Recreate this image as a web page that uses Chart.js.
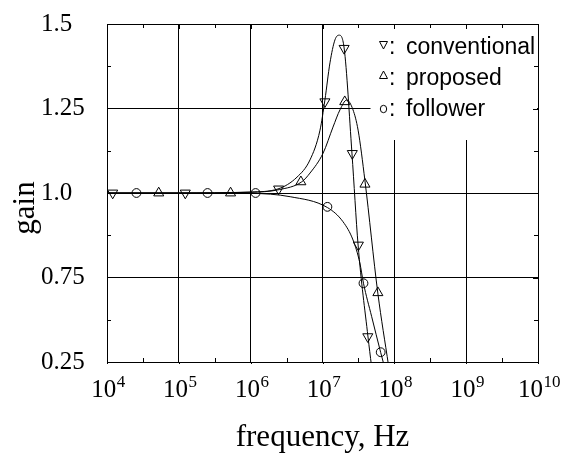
<!DOCTYPE html>
<html>
<head>
<meta charset="utf-8">
<script src="https://cdn.jsdelivr.net/npm/chart.js@4.4.1/dist/chart.umd.min.js"></script>
<style>
html,body{margin:0;padding:0;background:#fff;}
#wrap{width:567px;height:456px;}
</style>
</head>
<body>
<div id="wrap"><canvas id="c" width="567" height="456"></canvas></div>
<script>
// ---- axis ticks ----
const xTickValues = [1e4, 1e5, 1e6, 1e7, 1e8, 1e9, 1e10];
const xTickBase = '10';
const xTickExps = ['4', '5', '6', '7', '8', '9', '10'];
const xMinorValues = [3.16e4, 3.16e5, 3.16e6, 3.16e7, 3.16e8, 3.16e9];
const yTickValues = [0.5, 0.75, 1.0, 1.25, 1.5];
const yTickLabels = ['0.25', '0.75', '1.0', '1.25', '1.5'];
const yMinorValues = [0.625, 0.875, 1.125, 1.375];

// ---- series names ----
const seriesNames = ['conventional', 'proposed', 'follower'];

// ---- measured points (Hz, gain) ----
const convMarkF = [1.2e4, 1.23e5, 2.45e6, 1.08e7, 2.0e7, 2.6e7, 3.16e7, 4.27e7];
const convMarkG = [1.0, 1.0, 1.012, 1.27, 1.428, 1.117, 0.846, 0.575];
const propMarkF = [5.25e4, 5.25e5, 5.0e6, 2.04e7, 3.9e7, 5.9e7];
const propMarkG = [1.0, 1.0, 1.033, 1.27, 1.026, 0.705];
const follMarkF = [2.57e4, 2.51e5, 1.17e6, 1.17e7, 3.72e7, 6.46e7];
const follMarkG = [1.0, 1.0, 1.0, 0.959, 0.733, 0.529];

// ---- fitted curves (Hz, gain) ----
const convCurveF = [1e4, 1e5, 1e6, 2.4e6, 4.42e6, 6.7e6, 9.23e6, 1.08e7, 1.27e7, 1.49e7, 1.7e7, 2.0e7, 2.57e7, 3.13e7, 4.3e7, 4.8e7];
const convCurveG = [1.0, 1.0, 1.003, 1.012, 1.047, 1.098, 1.186, 1.275, 1.385, 1.453, 1.467, 1.429, 1.118, 0.846, 0.574, 0.49];
const propCurveF = [1e4, 1e5, 1e6, 2.5e6, 5.13e6, 6.7e6, 1.02e7, 1.4e7, 1.75e7, 2.17e7, 2.66e7, 3.13e7, 3.89e7, 5.89e7, 8.3e7];
const propCurveG = [1.0, 1.0, 1.002, 1.01, 1.033, 1.059, 1.118, 1.195, 1.246, 1.275, 1.246, 1.186, 1.038, 0.704, 0.49];
const follCurveF = [1e4, 1e5, 1e6, 3.55e6, 1.17e7, 1.93e7, 2.66e7, 3.31e7, 3.72e7, 4.84e7, 6.46e7, 7.2e7];
const follCurveG = [1.0, 1.0, 0.999, 0.989, 0.957, 0.915, 0.861, 0.793, 0.733, 0.634, 0.528, 0.49];

const pts = (f, g) => f.map((v, i) => ({x: v, y: g[i]}));

const curveDs = (f, g) => ({
  data: pts(f, g), showLine: true, pointRadius: 0, borderColor: '#000',
  borderWidth: 1, cubicInterpolationMode: 'monotone', fill: false
});
const markDs = (f, g, style, rot, r) => ({
  data: pts(f, g), showLine: false, pointStyle: style, rotation: rot,
  pointRadius: r, borderColor: '#000', borderWidth: 1,
  backgroundColor: 'rgba(0,0,0,0)', pointBorderColor: '#000', pointBackgroundColor: 'rgba(0,0,0,0)'
});

const SERIF = '"Liberation Serif", "Times New Roman", serif';
const SANS = '"Liberation Sans", Arial, sans-serif';

const LEG = {x0: 370.5, y1: 140};

const framePlugin = {
  id: 'frameExtras',
  beforeDatasetsDraw(chart) {
    const {ctx, chartArea: a} = chart;
    ctx.save();
    ctx.fillStyle = '#fff';
    ctx.fillRect(LEG.x0, a.top + 1, a.right - 1 - LEG.x0, LEG.y1 - a.top - 1);
    ctx.restore();
  },
  afterDatasetsDraw(chart) {
    const {ctx, chartArea: a, scales} = chart;
    const xs = scales.x, ys = scales.y;
    ctx.save();
    ctx.strokeStyle = '#000';
    ctx.lineWidth = 1;
    ctx.beginPath();
    xMinorValues.forEach(v => {
      const px = Math.round(xs.getPixelForValue(v)) + 0.5;
      ctx.moveTo(px, a.bottom); ctx.lineTo(px, a.bottom - 4);
      ctx.moveTo(px, a.top); ctx.lineTo(px, a.top + 4);
    });
    xTickValues.forEach(v => {
      const px = Math.round(xs.getPixelForValue(v)) + 0.5;
      ctx.moveTo(px, a.top); ctx.lineTo(px, a.top + 5);
      ctx.moveTo(px, a.bottom); ctx.lineTo(px, a.bottom + 2);
    });
    yMinorValues.forEach(v => {
      const py = Math.round(ys.getPixelForValue(v)) + 0.5;
      ctx.moveTo(a.left, py); ctx.lineTo(a.left + 4, py);
      ctx.moveTo(a.right, py); ctx.lineTo(a.right - 4, py);
    });
    yTickValues.forEach(v => {
      const py = Math.round(ys.getPixelForValue(v)) + 0.5;
      ctx.moveTo(a.right, py); ctx.lineTo(a.right - 5, py);
    });
    ctx.stroke();

    // x tick labels: 10 with superscript exponent
    ctx.fillStyle = '#000';
    ctx.textBaseline = 'alphabetic';
    ctx.textAlign = 'left';
    xTickValues.forEach((v, i) => {
      const px = xs.getPixelForValue(v);
      ctx.font = '25px ' + SERIF;
      const w1 = ctx.measureText(xTickBase).width;
      ctx.font = '17px ' + SERIF;
      const w2 = ctx.measureText(xTickExps[i]).width;
      const x0 = px - (w1 + w2) / 2 + 1;
      ctx.font = '25px ' + SERIF;
      ctx.fillText(xTickBase, x0, 397);
      ctx.font = '17px ' + SERIF;
      ctx.fillText(xTickExps[i], x0 + w1 + 0.5, 387);
    });

    // legend
    ctx.lineWidth = 1;
    ctx.beginPath();
    ctx.moveTo(379.5, 41.5); ctx.lineTo(387.5, 41.5); ctx.lineTo(383.5, 49); ctx.closePath();
    ctx.moveTo(379.5, 78.5); ctx.lineTo(387.5, 78.5); ctx.lineTo(383.5, 71); ctx.closePath();
    ctx.stroke();
    ctx.beginPath();
    ctx.ellipse(383.5, 109, 3.2, 3.7, 0, 0, Math.PI * 2);
    ctx.stroke();
    ctx.fillStyle = '#000';
    ctx.font = '23px ' + SANS;
    ctx.textBaseline = 'alphabetic';
    ctx.textAlign = 'left';
    const base = [54, 85, 116];
    seriesNames.forEach((n, i) => {
      ctx.fillText(':', 389, base[i]);
      ctx.fillText(n, 406, base[i]);
    });

    // y title
    ctx.save();
    ctx.translate(26, 208);
    ctx.rotate(-Math.PI / 2);
    ctx.font = '31px ' + SERIF;
    ctx.textAlign = 'center';
    ctx.textBaseline = 'middle';
    ctx.fillText('gain', 0, 0);
    ctx.restore();
    ctx.restore();
  }
};

new Chart(document.getElementById('c'), {
  type: 'scatter',
  data: {
    datasets: [
      curveDs(convCurveF, convCurveG),
      curveDs(propCurveF, propCurveG),
      curveDs(follCurveF, follCurveG),
      markDs(convMarkF, convMarkG, 'triangle', 180, 5.8),
      markDs(propMarkF, propMarkG, 'triangle', 0, 5.8),
      markDs(follMarkF, follMarkG, 'circle', 0, 4.4)
    ]
  },
  options: {
    responsive: false,
    animation: false,
    devicePixelRatio: 1,
    layout: {padding: {left: 41, right: 29, top: 24, bottom: 0}},
    plugins: {legend: {display: false}, tooltip: {enabled: false}},
    scales: {
      x: {
        type: 'logarithmic', min: 1e4, max: 1e10, position: 'bottom',
        afterBuildTicks: s => { s.ticks = xTickValues.map(v => ({value: v})); },
        afterFit: s => { s.height = 94; },
        ticks: {
          display: false,
          callback: (v, i) => xTickBase + xTickExps[i],
          font: {family: SERIF, size: 25}, color: '#000',
          maxRotation: 0, autoSkip: false, padding: 12
        },
        grid: {color: '#000', lineWidth: 1, drawTicks: false},
        border: {color: '#000', width: 1},
        title: {display: true, text: 'frequency, Hz', color: '#000',
          font: {family: SERIF, size: 31}, padding: {top: 0, bottom: 0}}
      },
      y: {
        type: 'linear', min: 0.5, max: 1.5,
        afterBuildTicks: s => { s.ticks = yTickValues.map(v => ({value: v})); },
        afterFit: s => { s.width = 66; },
        ticks: {
          callback: (v, i) => yTickLabels[i],
          font: {family: SERIF, size: 25}, color: '#000',
          crossAlign: 'far', padding: 4
        },
        grid: {color: '#000', lineWidth: 1, drawTicks: false},
        border: {color: '#000', width: 1},
        title: {display: false}
      }
    }
  },
  plugins: [framePlugin]
});
</script>
</body>
</html>
